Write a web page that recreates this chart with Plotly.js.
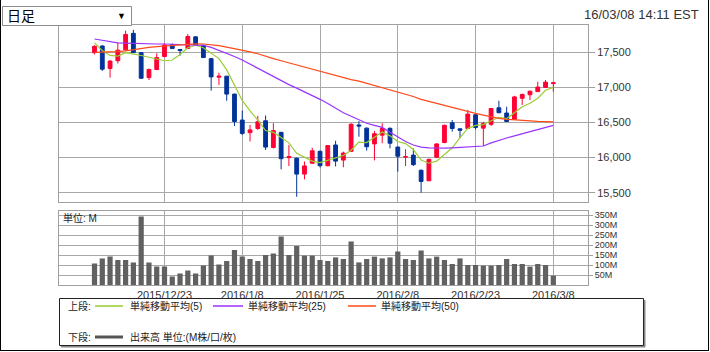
<!DOCTYPE html>
<html>
<head>
<meta charset="utf-8">
<script src="https://cdn.plot.ly/plotly-3.0.1.min.js"></script>
<style>
html,body{margin:0;padding:0;background:#fff;}
#chart{width:710px;height:352px;}
</style>
</head>
<body>
<div id="chart"></div>
<script>
// ---- data ----
const dates = [
 '2015-12-10','2015-12-11','2015-12-14','2015-12-15','2015-12-16','2015-12-17','2015-12-18','2015-12-21','2015-12-22','2015-12-23',
 '2015-12-24','2015-12-28','2015-12-29','2015-12-30','2015-12-31','2016-01-04','2016-01-05','2016-01-06','2016-01-07','2016-01-08',
 '2016-01-11','2016-01-12','2016-01-13','2016-01-14','2016-01-15','2016-01-19','2016-01-20','2016-01-21','2016-01-22','2016-01-25',
 '2016-01-26','2016-01-27','2016-01-28','2016-01-29','2016-02-01','2016-02-02','2016-02-03','2016-02-04','2016-02-05','2016-02-08',
 '2016-02-09','2016-02-10','2016-02-11','2016-02-12','2016-02-16','2016-02-17','2016-02-18','2016-02-19','2016-02-22','2016-02-23',
 '2016-02-24','2016-02-25','2016-02-26','2016-02-29','2016-03-01','2016-03-02','2016-03-03','2016-03-04','2016-03-07','2016-03-08'
];
const openP = [
 17495,17590,17270,17380,17535,17770,17495,17140,17255,17440,
 17610,17540,17555,17720,17600,17410,17145,17160,16905,16535,
 16355,16415,16525,16145,16360,16000,15990,15765,15920,16090,
 15885,16180,15965,16090,16465,16420,16195,16320,16417,16150,
 16008,16036,15820,15670,16005,16215,16495,16410,16415,16610,
 16420,16475,16710,16635,16545,16845,16895,16940,17000,17055
];
const highP = [
 17600,17600,17390,17635,17810,17820,17500,17270,17485,17625,
 17625,17545,17760,17730,17605,17415,17210,17165,16910,16670,
 16465,16595,16600,16490,16365,16180,16000,15945,16140,16100,
 16180,16240,16085,16490,16520,16430,16380,16490,16430,16160,
 16120,16132,15830,15985,16205,16470,16535,16415,16680,16620,
 16510,16705,16810,16725,16880,16910,16955,17080,17105,17080
];
const lowP = [
 17470,17235,17140,17340,17520,17490,17125,17105,17245,17430,
 17545,17450,17550,17590,17420,16955,17035,16810,16450,16320,
 16230,16395,16108,16130,15833,15880,15443,15690,15910,15860,
 15875,15875,15862,16080,16298,16100,15960,16205,16132,15800,
 15880,15880,15500,15665,15995,16205,16370,16275,16410,16400,
 16165,16450,16630,16510,16540,16750,16820,16935,16990,16940
];
const closeP = [
 17585,17260,17375,17530,17755,17495,17130,17255,17425,17605,
 17555,17525,17725,17600,17425,17150,17160,16905,16515,16345,
 16395,16511,16150,16385,15985,16015,15765,15882,16097,15885,
 16172,15950,16065,16475,16450,16155,16340,16415,16205,16020,
 16013,15900,15660,15975,16195,16460,16415,16390,16620,16430,
 16485,16700,16640,16515,16865,16900,16945,17005,17075,17065
];
const ma5 = [
 17635,17525,17455,17445,17495,17480,17455,17430,17410,17380,
 17390,17470,17565,17600,17565,17485,17410,17250,17030,16815,
 16665,16535,16385,16360,16285,16210,16060,16005,15950,15930,
 15960,15995,16030,16105,16220,16215,16295,16365,16310,16230,
 16200,16115,15965,15920,15950,16040,16140,16285,16415,16460,
 16470,16525,16575,16555,16640,16725,16775,16845,16960,17000
];
const ma25 = [
 17690,17670,17650,17635,17630,17625,17620,17618,17618,17618,
 17616,17614,17615,17612,17600,17570,17530,17490,17440,17390,
 17330,17270,17210,17150,17100,17040,16990,16940,16880,16830,
 16770,16700,16640,16590,16540,16490,16460,16430,16360,16290,
 16230,16180,16150,16140,16135,16135,16140,16145,16150,16155,
 16165,16210,16250,16280,16310,16340,16370,16400,16430,16460
];
const ma50 = [
 17500,17500,17505,17510,17520,17540,17555,17570,17580,17590,
 17600,17610,17618,17620,17618,17610,17595,17575,17555,17530,
 17505,17480,17440,17410,17380,17350,17320,17285,17260,17230,
 17200,17170,17140,17110,17090,17060,17030,17000,16970,16940,
 16900,16870,16830,16800,16770,16740,16710,16680,16655,16630,
 16605,16580,16560,16545,16535,16525,16520,16515,16512,16508
];
const volume = [
 108,133,142,125,125,113,342,113,92,92,
 42,58,72,58,97,147,103,120,175,142,
 130,120,150,158,242,150,195,147,147,125,
 120,138,130,217,113,130,142,133,138,167,
 130,125,172,133,142,125,105,133,100,100,
 97,97,100,130,105,105,92,105,100,47
];
const tickDates = ['2015-12-23','2016-01-08','2016-01-25','2016-02-08','2016-02-23','2016-03-08'];
const tickLabels = ['2015/12/23','2016/1/8','2016/1/25','2016/2/8','2016/2/23','2016/3/8'];
const priceTicks = [15500,16000,16500,17000,17500];
const priceTickText = ['15,500','16,000','16,500','17,000','17,500'];
const volTicks = [50,100,150,200,250,300,350];
const volTickText = ['50M','100M','150M','200M','250M','300M','350M'];
const legendNames = ['単純移動平均(5)','単純移動平均(25)','単純移動平均(50)'];
const volumeName = '出来高 単位:(M株/口/枚)';

// ---- layout helpers (pixel -> paper) ----
const W = 710, H = 352;
const px = x => x / W;
const py = y => 1 - y / H;

const RED = '#ff0033', BLUE = '#003399';
const C5 = '#9acd32', C25 = '#9933ff', C50 = '#ff4a1a';
const GRID = '#a8a8a8', FRAME = '#a0a0a0';
const JP = "'Liberation Sans', Arial, 'Noto Sans CJK JP', sans-serif";

const traces = [
  {type:'candlestick', x:dates, open:openP, high:highP, low:lowP, close:closeP,
   xaxis:'x', yaxis:'y',
   increasing:{line:{color:RED,width:1}, fillcolor:RED},
   decreasing:{line:{color:BLUE,width:1}, fillcolor:BLUE},
   whiskerwidth:0, hoverinfo:'skip', showlegend:false},
  {type:'scatter', mode:'lines', x:dates, y:ma5, xaxis:'x', yaxis:'y', line:{color:C5,width:1.2}, showlegend:false, hoverinfo:'skip'},
  {type:'scatter', mode:'lines', x:dates, y:ma25, xaxis:'x', yaxis:'y', line:{color:C25,width:1.2}, showlegend:false, hoverinfo:'skip'},
  {type:'scatter', mode:'lines', x:dates, y:ma50, xaxis:'x', yaxis:'y', line:{color:C50,width:1.2}, showlegend:false, hoverinfo:'skip'},
  {type:'bar', x:dates, y:volume, xaxis:'x2', yaxis:'y2', marker:{color:'#616161', line:{width:0}}, showlegend:false, hoverinfo:'skip'}
];

const xr = [-4.63, 63.46];
const xd = [px(58.5), px(588)];

const axisBase = {
  showline:true, mirror:true, linecolor:FRAME, linewidth:1,
  showgrid:true, gridcolor:GRID, gridwidth:1, zeroline:false, fixedrange:true
};

const layout = {
  width:W, height:H,
  margin:{l:0,r:0,t:0,b:0,pad:0},
  paper_bgcolor:'#fff', plot_bgcolor:'#fff',
  showlegend:false, dragmode:false,
  bargap:0.33,
  font:{family:JP, size:11, color:'#333'},
  xaxis: Object.assign({}, axisBase, {
    type:'category', domain:xd, range:xr, anchor:'y',
    tickmode:'array', tickvals:tickDates, ticktext:tickLabels, showticklabels:false, ticks:'',
    rangeslider:{visible:false}
  }),
  yaxis: Object.assign({}, axisBase, {
    domain:[py(201.7), py(25)], range:[15372, 17889], anchor:'x', side:'right',
    tickmode:'array', tickvals:priceTicks, ticktext:priceTickText,
    ticks:'outside', ticklen:6, tickcolor:FRAME, tickfont:{size:11, color:'#333'}
  }),
  xaxis2: Object.assign({}, axisBase, {
    type:'category', domain:xd, range:xr, anchor:'y2',
    tickmode:'array', tickvals:tickDates, ticktext:tickLabels, ticks:'',
    tickfont:{size:11, color:'#333'}
  }),
  yaxis2: Object.assign({}, axisBase, {
    domain:[py(285), py(211)], range:[0, 370], anchor:'x2', side:'right',
    tickmode:'array', tickvals:volTicks, ticktext:volTickText,
    ticks:'outside', ticklen:4, tickcolor:FRAME, tickfont:{size:9, color:'#333'}
  }),
  shapes:[
    // dropdown box
    {type:'rect', xref:'paper', yref:'paper', x0:px(2.5), x1:px(131.5), y0:py(25.5), y1:py(6.5), line:{color:'#8c8c8c', width:1}, fillcolor:'#fff'},
    // legend box shadow
    {type:'line', xref:'paper', yref:'paper', x0:px(61), x1:px(645), y0:py(346.5), y1:py(346.5), line:{color:'#888', width:2}},
    {type:'line', xref:'paper', yref:'paper', x0:px(644.5), x1:px(644.5), y0:py(300), y1:py(347), line:{color:'#888', width:2}},
    // legend box
    {type:'rect', xref:'paper', yref:'paper', x0:px(59.5), x1:px(643.5), y0:py(345.5), y1:py(298.5), line:{color:'#222', width:1}},
    // legend samples
    {type:'line', xref:'paper', yref:'paper', x0:px(95), x1:px(123), y0:py(306), y1:py(306), line:{color:C5, width:1.5}},
    {type:'line', xref:'paper', yref:'paper', x0:px(213), x1:px(243), y0:py(306), y1:py(306), line:{color:C25, width:1.5}},
    {type:'line', xref:'paper', yref:'paper', x0:px(348), x1:px(376), y0:py(306), y1:py(306), line:{color:C50, width:1.5}},
    {type:'line', xref:'paper', yref:'paper', x0:px(95), x1:px(123), y0:py(337), y1:py(337), line:{color:'#555', width:3}},
    // outer border
    {type:'line', xref:'paper', yref:'paper', x0:px(0.5), x1:px(0.5), y0:py(0), y1:py(351), line:{color:'#000', width:1}},
    {type:'line', xref:'paper', yref:'paper', x0:px(708.5), x1:px(708.5), y0:py(0), y1:py(351), line:{color:'#000', width:1}},
    {type:'line', xref:'paper', yref:'paper', x0:px(0), x1:px(709), y0:py(350.5), y1:py(350.5), line:{color:'#000', width:1}}
  ],
  annotations:[
    {xref:'paper', yref:'paper', x:px(5), y:py(16), xanchor:'left', yanchor:'middle', text:'日足', showarrow:false, font:{size:14, color:'#000', family:JP}},
    {xref:'paper', yref:'paper', x:px(121.5), y:py(16), xanchor:'center', yanchor:'middle', text:'▼', showarrow:false, font:{size:9, color:'#000', family:JP}},
    {xref:'paper', yref:'paper', x:px(701), y:py(15), xanchor:'right', yanchor:'middle', text:'16/03/08 14:11 EST', showarrow:false, font:{size:13, color:'#333', family:JP}},
    {xref:'paper', yref:'paper', x:px(61), y:py(218), xanchor:'left', yanchor:'middle', text:'単位: M', showarrow:false, font:{size:10, color:'#222', family:JP}},
    {xref:'paper', yref:'paper', x:px(66), y:py(306), xanchor:'left', yanchor:'middle', text:'上段:', showarrow:false, font:{size:10, color:'#222', family:JP}},
    {xref:'paper', yref:'paper', x:px(128), y:py(306), xanchor:'left', yanchor:'middle', text:legendNames[0], showarrow:false, font:{size:10, color:'#222', family:JP}},
    {xref:'paper', yref:'paper', x:px(246), y:py(306), xanchor:'left', yanchor:'middle', text:legendNames[1], showarrow:false, font:{size:10, color:'#222', family:JP}},
    {xref:'paper', yref:'paper', x:px(379), y:py(306), xanchor:'left', yanchor:'middle', text:legendNames[2], showarrow:false, font:{size:10, color:'#222', family:JP}},
    {xref:'paper', yref:'paper', x:px(66), y:py(337), xanchor:'left', yanchor:'middle', text:'下段:', showarrow:false, font:{size:10, color:'#222', family:JP}},
    {xref:'paper', yref:'paper', x:px(128), y:py(337), xanchor:'left', yanchor:'middle', text:volumeName, showarrow:false, font:{size:10, color:'#222', family:JP}}
  ]
};

Plotly.newPlot('chart', traces, layout, {staticPlot:true, displayModeBar:false});
</script>
</body>
</html>
